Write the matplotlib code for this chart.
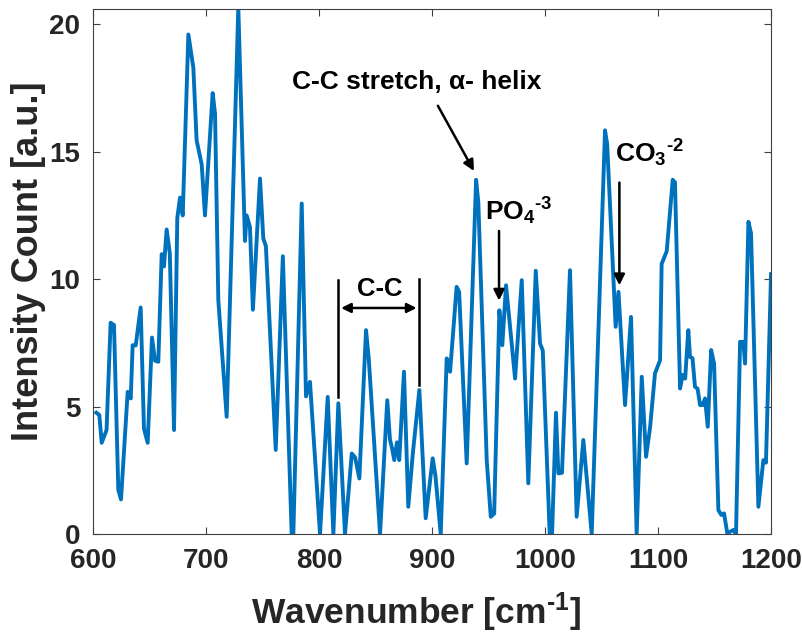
import numpy as np
import matplotlib
matplotlib.use('Agg')
import matplotlib.pyplot as plt

# Raman spectrum
wavenumber = [603, 605.6, 607.7, 612, 615.6, 618.6, 622.4, 624.8, 630.7, 633.4,
              635.1, 637.8, 642.2, 645.1, 648.4, 652.2, 654.9, 657.8, 660.8, 662.8,
              665.2, 668, 671.7, 674.6, 677, 679.4, 684.4, 688.8, 691.7, 696.2,
              699.1, 705.9, 708, 710.9, 718.3, 728.6, 734.5, 736, 738.9, 741.5,
              747.8, 750.7, 753, 761.7, 768, 775.8, 777, 784.7, 788.5, 792,
              800.9, 807.7, 812.7, 817.1, 823, 829, 832, 835.7, 841.6, 844,
              854, 860.4, 862.8, 864.5, 866.6, 869, 871, 875.2, 879, 883,
              888.8, 894.4, 900.6, 903, 907.7, 913, 916, 921.8, 924, 930.7,
              939, 941, 948.4, 952, 955, 959.6, 962.2, 965.5, 973.5, 979.4,
              985.2, 991.8, 995.6, 998, 1004.4, 1006, 1009.7, 1011.8, 1015, 1022.1,
              1028, 1033.9, 1041.3, 1053.1, 1055, 1062.5, 1065, 1070.8, 1076.1, 1081.1,
              1085.6, 1089.4, 1093, 1097.3, 1101.8, 1103.2, 1107.7, 1113, 1115, 1119.5,
              1121.8, 1124, 1126.8, 1128.3, 1130.5, 1132.7, 1135, 1137.2, 1139.5, 1141.6,
              1144, 1147, 1149.6, 1153.4, 1156, 1158.4, 1161.3, 1166.7, 1169, 1172.6,
              1175.5, 1177, 1180, 1182.3, 1188.8, 1193.2, 1195.5, 1200]
intensity = [4.76, 4.67, 3.58, 4.08, 8.29, 8.2, 1.73, 1.36, 5.58, 5.32,
             7.41, 7.4, 8.89, 4.14, 3.58, 7.71, 6.8, 6.76, 10.98, 10.5,
             11.95, 11.0, 4.08, 12.4, 13.2, 12.5, 19.6, 18.3, 15.45, 14.5,
             12.5, 17.3, 16.5, 9.18, 4.6, 20.65, 11.5, 12.5, 12.05, 8.8,
             13.95, 11.6, 11.3, 3.3, 10.9, 0.0, -0.5, 12.97, 5.4, 5.97,
             0.0, 5.38, 0.0, 5.13, 0.0, 3.16, 3.0, 2.18, 8.0, 6.9,
             0.0, 5.25, 3.7, 3.4, 2.9, 3.6, 2.9, 6.37, 1.07, 3.16,
             5.65, 0.62, 2.97, 2.3, 0.0, 6.89, 6.37, 9.7, 9.5, 2.77,
             13.9, 13.0, 2.9, 0.68, 0.8, 8.78, 7.41, 9.76, 6.1, 9.96,
             1.99, 10.33, 7.48, 7.2, -0.3, -0.3, 4.76, 2.38, 2.4, 10.35,
             0.68, 3.69, 0.0, 15.84, 15.3, 8.13, 9.5, 5.06, 8.52, 0.0,
             6.17, 3.03, 4.2, 6.3, 6.82, 10.6, 11.1, 13.9, 13.8, 5.71,
             6.24, 6.1, 8.0, 6.95, 6.9, 5.78, 5.7, 5.06, 5.06, 5.32,
             4.21, 7.22, 6.69, 0.94, 0.75, 0.81, 0.03, 0.16, 0.0, 7.54,
             7.54, 6.69, 12.25, 11.8, 1.07, 2.9, 2.8, 10.2]

plt.rcParams['font.family'] = ['Liberation Sans', 'DejaVu Sans']
plt.rcParams['font.weight'] = 'bold'
plt.rcParams['mathtext.fontset'] = 'custom'
plt.rcParams['mathtext.rm'] = 'Liberation Sans:bold'
plt.rcParams['mathtext.bf'] = 'Liberation Sans:bold'
plt.rcParams['mathtext.it'] = 'Liberation Sans:bold'

fig = plt.figure(figsize=(8.03, 6.35), dpi=100)
ax = fig.add_axes([0.1158, 0.159, 0.8444, 0.8268])

ax.plot(wavenumber, intensity, color='#0072BD', lw=2.8)
ax.set_xlim(600, 1200)
ax.set_ylim(0, 20.6)
ax.set_xticks([600, 700, 800, 900, 1000, 1100, 1200])
ax.set_yticks([0, 5, 10, 15, 20])
ax.tick_params(direction='in', top=True, right=True, labelsize=20,
               length=5, width=0.8, color='#404040', labelcolor='#262626')
ax.tick_params(axis='x', pad=10)
ax.tick_params(axis='y', pad=9)
for lab in ax.get_xticklabels() + ax.get_yticklabels():
    lab.set_fontweight('bold')
for s in ax.spines.values():
    s.set_color('#404040')
    s.set_linewidth(0.8)

ax.set_xlabel(r'Wavenumber [cm$^{\text{-1}}$]', fontsize=25.5, fontweight='bold',
              color='#262626')
ax.set_ylabel('Intensity Count [a.u.]', fontsize=26, fontweight='bold',
              color='#262626')
ax.xaxis.set_label_coords(0.476, -0.108)
ax.yaxis.set_label_coords(-0.07, 0.52)

arrow = dict(arrowstyle='-|>', color='black', lw=1.8, mutation_scale=16)
ax.annotate('', xy=(938.3, 14.15), xytext=(904, 16.9), arrowprops=arrow)
ax.text(886.7, 17.74, 'C-C stretch, α- helix', fontsize=19, fontweight='bold',
        ha='center', va='center')

ax.annotate('', xy=(959.3, 9.05), xytext=(959.3, 12.0), arrowprops=arrow)
ax.text(947, 12.3, r'PO$_{\text{4}}$$^{\text{-3}}$', fontsize=19, ha='left', va='baseline')

ax.annotate('', xy=(1065.8, 9.65), xytext=(1065.8, 13.9), arrowprops=arrow)
ax.text(1062, 14.6, r'CO$_{\text{3}}$$^{\text{-2}}$', fontsize=19, ha='left', va='baseline')

# C-C band bracket
ax.plot([817.1, 817.1], [5.38, 9.98], color='black', lw=1.8)
ax.plot([888.8, 888.8], [5.84, 10.02], color='black', lw=1.8)
ax.annotate('', xy=(817.1, 8.87), xytext=(888.8, 8.87),
            arrowprops=dict(arrowstyle='<|-|>', color='black', lw=1.8, mutation_scale=14))
ax.text(854, 9.6, 'C-C', fontsize=18.5, fontweight='bold', ha='center', va='center')

fig.savefig('out.png', dpi=100)
